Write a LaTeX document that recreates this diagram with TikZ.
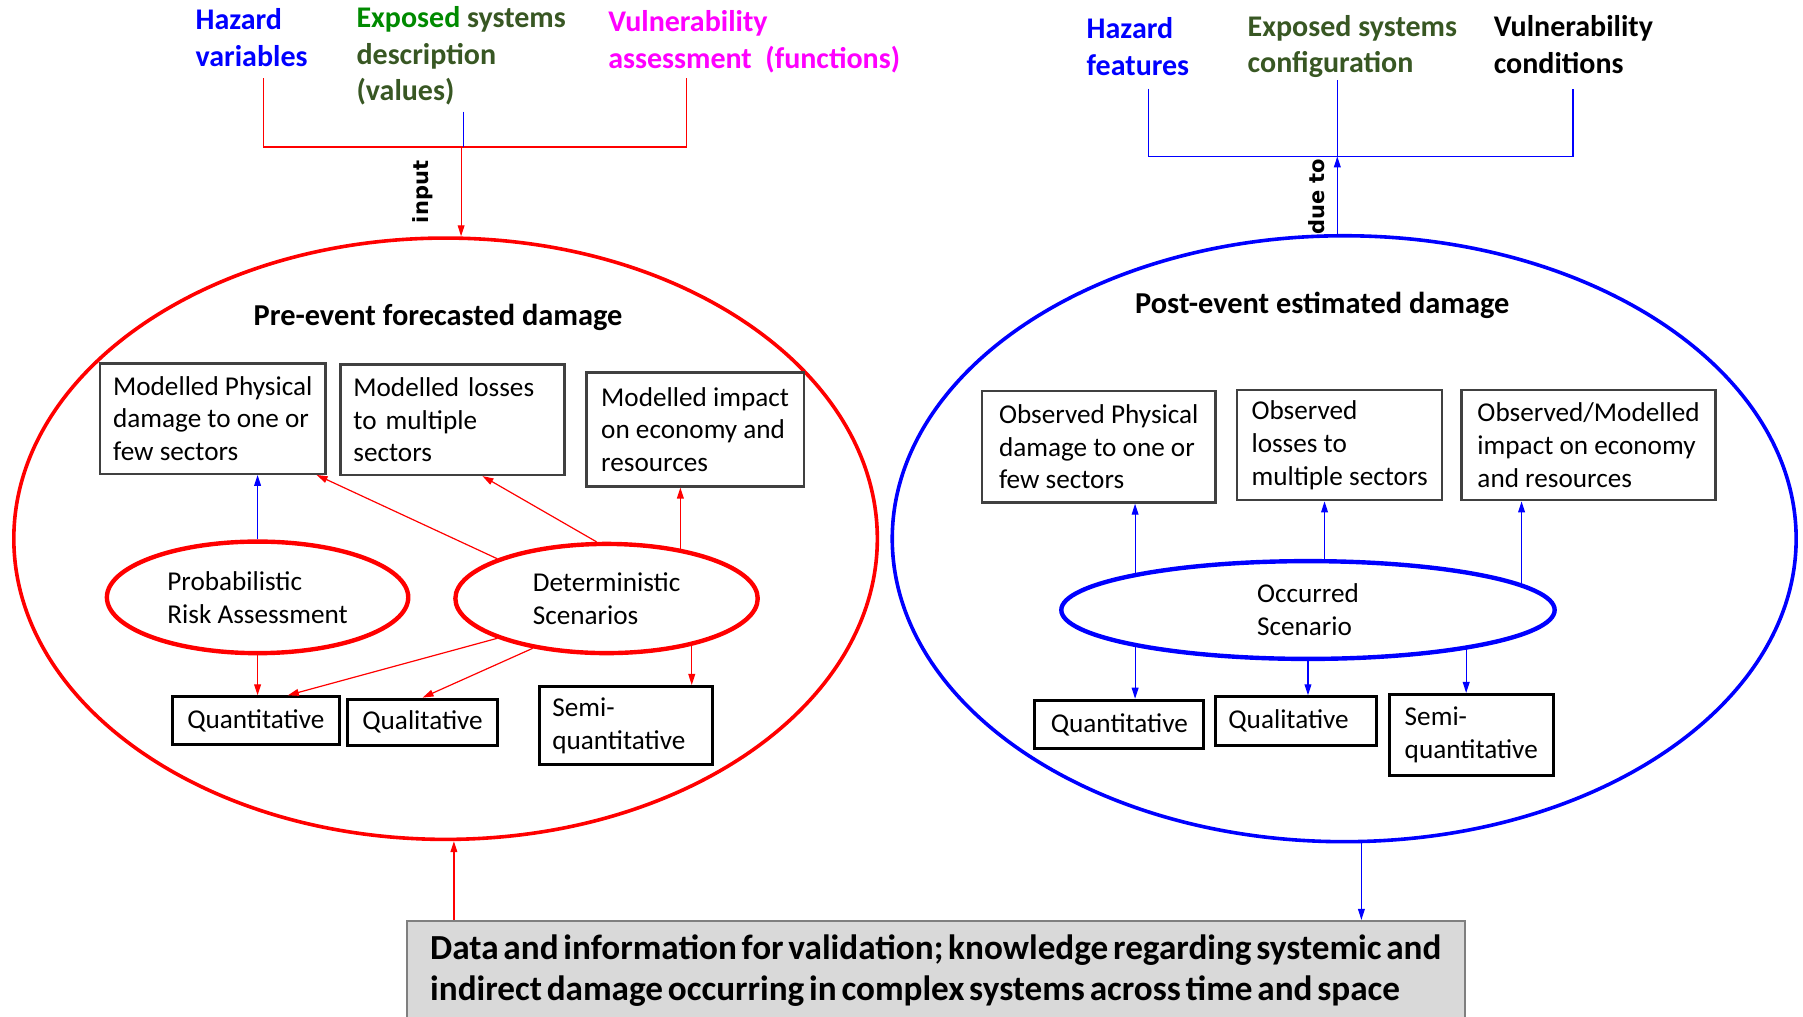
\documentclass[tikz,border=0pt]{standalone}
\usepackage{fontspec}
\setmainfont{Carlito}
\newfontfamily\tagfont{DejaVu Sans}
\newfontfamily\datafont[WordSpace=0.6]{Carlito}
\usepackage{tikz}
\usetikzlibrary{arrows.meta,shapes.geometric,positioning}
\definecolor{preRed}{HTML}{FF0000}
\definecolor{postBlue}{HTML}{0000FF}
\definecolor{hazBlue}{HTML}{0000FF}
\definecolor{expGreen}{HTML}{008A00}
\definecolor{expOlive}{HTML}{385723}
\definecolor{vulPink}{HTML}{FF00FF}
\definecolor{boxInk}{HTML}{404040}
\definecolor{dataFill}{HTML}{D9D9D9}
\definecolor{dataEdge}{HTML}{7F7F7F}

\begin{document}
\begin{tikzpicture}[
  x=0.575pt, y=-0.575pt,
  >={Triangle[length=5.5pt,width=3.4pt]},
  head/.style={font=\fontsize{15}{18.4}\selectfont\bfseries,align=left,
    inner sep=1pt,anchor=west},
  damage/.style={font=\fontsize{15.2}{18}\selectfont\bfseries,inner sep=0pt},
  tagtext/.style={font=\fontsize{10.5}{12}\selectfont\tagfont\bfseries,
    rotate=90,inner sep=0pt},
  outcome/.style={draw=boxInk,line width=1.2pt,align=left,inner xsep=6.5pt,
    inner ysep=0pt,font=\fontsize{13.6}{16.4}\selectfont},
  kind/.style={outcome,draw=black,line width=1.5pt},
  method/.style={ellipse,line width=2.2pt,inner sep=0pt,align=left,
    font=\fontsize{13.6}{16.4}\selectfont},
  realm/.style={ellipse,line width=1.8pt,inner sep=0pt},
  link/.style={->,line width=.6pt},
  brace/.style={line width=.7pt}
]
  \useasboundingbox (0,0) rectangle (1568,884);

  % what goes into the forecast
  \node[head,text=hazBlue] (hazL) at (168,33) {Hazard\\variables};
  \node[head,text=expOlive] (expL) at (308,48.5)
    {\textcolor{expGreen}{Exposed} systems\\description\\(values)};
  \node[head,text=vulPink] (vulL) at (527,36.5)
    {Vulnerability\\assessment~ (functions)};

  % what the damage is due to
  \node[head,text=hazBlue] (hazR) at (943,40.5) {Hazard\\features};
  \node[head,text=expOlive] (expR) at (1083,40.5) {Exposed systems\\configuration};
  \node[head] (vulR) at (1297,39) {Vulnerability\\conditions};

  % the two kinds of damage
  \node[realm,draw=preRed,minimum width=431.8pt,minimum height=300.7pt]
    (preE) at (387.5,468.5) {};
  \node[realm,draw=postBlue,minimum width=452pt,minimum height=303pt]
    (postE) at (1169,468.5) {};
  \node[damage] (preT) at (381,276) {Pre-event forecasted damage};
  \node[damage] (postT) at (1150,266) {Post-event estimated damage};

  % pre-event side
  \node[outcome,minimum width=112.7pt,minimum height=55.2pt] (physL) at (185,364)
    {Modelled Physical\\damage to one or\\few sectors};
  \node[outcome,text width=99.1pt,minimum height=55.2pt] (lossL) at (393.5,365)
    {Modelled losses\\to multiple\\sectors};
  \node[outcome,minimum width=108.7pt,minimum height=56.9pt] (econL) at (604.5,373.5)
    {Modelled impact\\on economy and\\resources};
  \node[method,draw=preRed,minimum width=150.7pt,minimum height=55.8pt]
    (praL) at (224,519.5) {Probabilistic\\Risk Assessment};
  \node[method,draw=preRed,minimum width=151.2pt,minimum height=54.6pt]
    (detL) at (527.5,520.5) {Deterministic\\Scenarios};
  \node[kind,minimum width=83.4pt,minimum height=23.6pt] (quanL) at (222.5,626.5)
    {Quantitative};
  \node[kind,minimum width=75.3pt,minimum height=23pt] (qualL) at (367.5,628)
    {Qualitative};
  \node[kind,text width=73.8pt,minimum height=39.1pt] (semiL) at (544.5,631)
    {Semi-\\quantitative};

  % post-event side
  \node[outcome,minimum width=116.7pt,minimum height=55.8pt] (physR) at (955.5,388.5)
    {Observed Physical\\damage to one or\\few sectors};
  \node[outcome,minimum width=102.4pt,minimum height=55.2pt] (lossR) at (1165,387)
    {Observed\\losses to\\multiple sectors};
  \node[outcome,minimum width=127.1pt,minimum height=55.2pt] (econR) at (1381.5,387)
    {Observed/Modelled\\impact on economy\\and resources};
  \node[method,draw=postBlue,minimum width=246.7pt,minimum height=48.9pt]
    (occR) at (1137.5,530.5) {Occurred\\Scenario};
  \node[kind,minimum width=84.5pt,minimum height=24.2pt] (quanR) at (973.5,630)
    {Quantitative};
  \node[kind,text width=67.5pt,minimum height=24.2pt] (qualR) at (1127,627)
    {Qualitative};
  \node[kind,minimum width=82.2pt,minimum height=40.3pt] (semiR) at (1279.5,639)
    {Semi-\\quantitative};

  % validation data
  \node[draw=dataEdge,fill=dataFill,line width=.9pt,anchor=north west,
    minimum width=529pt,inner xsep=6.9pt,inner ysep=7pt,align=left,
    font=\fontsize{17.6}{20.7}\selectfont\datafont\bfseries] (dataB) at (353,800)
    {Data and information for validation; knowledge regarding systemic and\\
     indirect damage occurring in complex systems across time and space};

  % input bracket
  \coordinate (inJoin) at (401,128);
  \draw[brace,preRed] (229,68) |- (inJoin) -| (597,68);
  \draw[brace,postBlue,line width=.5pt] (403,97) -- (403,128);
  \draw[link,preRed] (inJoin) -- (inJoin |- preE.north);
  \node[tagtext] (inTag) at (368,167) {input};

  % due-to bracket
  \coordinate (dueJoin) at (1163,136);
  \draw[brace,postBlue] (999,77) |- (dueJoin) -| (1368,77);
  \draw[brace,postBlue] (1163,70) -- (dueJoin);
  \draw[link,postBlue] (dueJoin |- postE.north) -- (dueJoin);
  \node[tagtext] (dueTag) at (1145,171) {due to};

  % pre-event arrows
  \draw[link,postBlue] (praL.north) -- (praL.north |- physL.south);
  \draw[link,preRed] (detL.160) -- ([xshift=-5pt]physL.south east);
  \draw[link,preRed] (detL.100) -- ([xshift=15pt]lossL.south);
  \draw[link,preRed] (detL.34) -- (detL.34 |- econL.south);
  \draw[link,preRed] (praL.south) -- (praL.south |- quanL.north);
  \draw[link,preRed] (detL.200) -- ([xshift=16pt]quanL.north);
  \draw[link,preRed] (detL.214) -- (qualL.north);
  \draw[link,preRed] (detL.-29) -- (detL.-29 |- semiL.north);

  % post-event arrows
  \draw[link,postBlue] (occR.168) -- (occR.168 |- physR.south);
  \draw[link,postBlue] (occR.72) -- (occR.72 |- lossR.south);
  \draw[link,postBlue] (occR.7) -- (occR.7 |- econR.south);
  \draw[link,postBlue] (occR.192) -- (occR.192 |- quanR.north);
  \draw[link,postBlue] (occR.south) -- (occR.south |- qualR.north);
  \draw[link,postBlue] (occR.-14) -- (occR.-14 |- semiR.north);

  % link to the validation data
  \coordinate (valUp) at ([xshift=24pt]dataB.north west);
  \coordinate (valDown) at ([xshift=8.6pt]postE.south);
  \draw[link,preRed] (valUp) -- (valUp |- preE.south);
  \draw[link,postBlue] (valDown) -- (valDown |- dataB.north);
\end{tikzpicture}
\end{document}
